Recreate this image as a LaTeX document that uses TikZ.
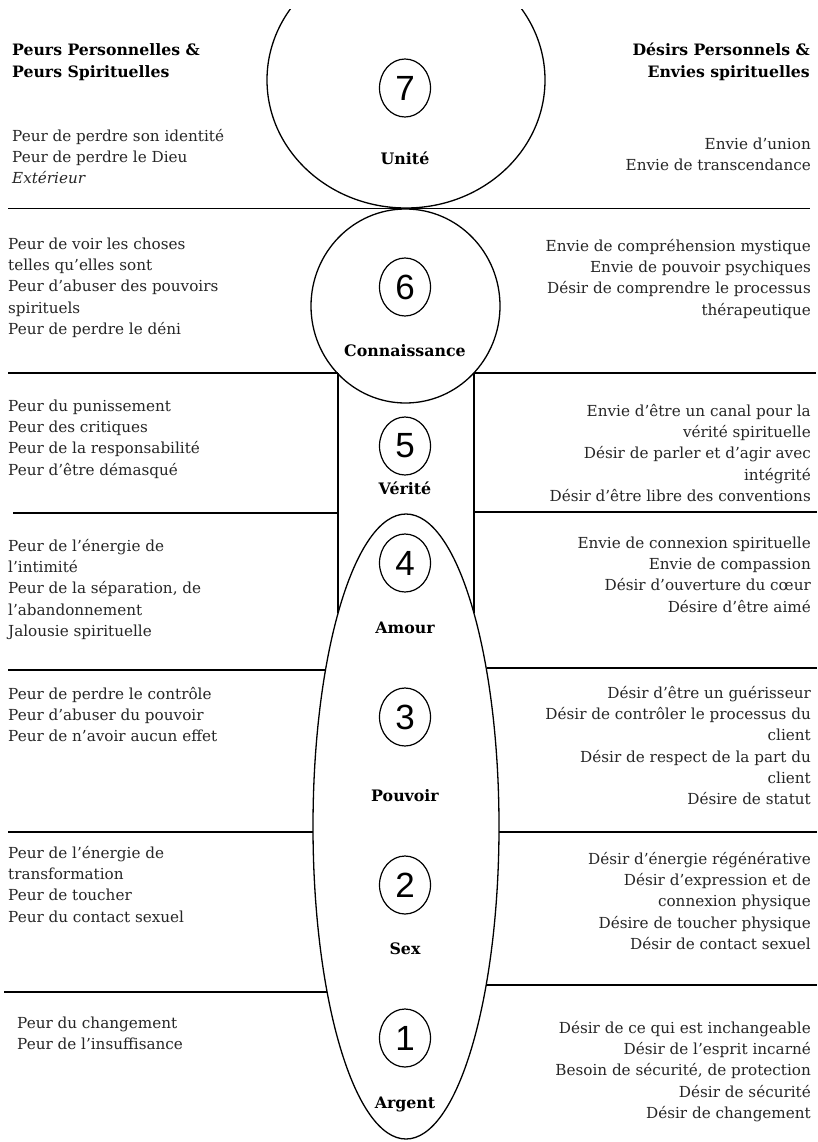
\documentclass[tikz,border=0pt]{standalone}
\usepackage{fontspec}
\setmainfont{DejaVu Serif}
\newfontfamily\numfont{Liberation Sans}
\usetikzlibrary{shapes.geometric}
\newcommand\fs{\rule{0pt}{15pt}}
\tikzset{
  txt/.style={font=\fontsize{15.2}{21.3}\selectfont, text=black!85, inner sep=0pt, align=left, anchor=north west},
  txr/.style={txt, align=right, anchor=north east},
  hdr/.style={font=\bfseries\fontsize{15.7}{22}\selectfont, inner sep=0pt, align=left, anchor=north west},
  hdrr/.style={hdr, align=right, anchor=north east},
  lbl/.style={font=\bfseries\fontsize{15.8}{17}\selectfont, inner sep=0pt, anchor=base},
  num/.style={draw, ellipse, minimum width=51pt, minimum height=58pt, inner sep=0pt, font=\numfont\fontsize{35}{35}\selectfont, line width=1.2pt},
  ln/.style={line width=1.8pt},
  shp/.style={line width=1.3pt}
}
\begin{document}
\begin{tikzpicture}[x=1pt, y=-1pt]
\useasboundingbox[fill=white] (0,0) rectangle (817,1142);
% big shapes
\begin{scope}
  \clip (0,10) rectangle (817,400);
  \draw[shp] (406,80) ellipse [x radius=139, y radius=128];
\end{scope}
\draw[shp] (405.5,306) ellipse [x radius=94.5, y radius=97];
\draw[shp] (406,826.5) ellipse [x radius=93, y radius=312.5];
% horizontal lines
\draw[ln] (8,208.5) -- (810,208.5);
\draw[ln] (8,373) -- (338,373);
\draw[ln] (474,373) -- (816,373);
\draw[shp] (338,373) -- (338,613);
\draw[shp] (474,373) -- (474,613);
\draw[ln] (13,513) -- (338,513);
\draw[ln] (474,512) -- (817,512);
\draw[ln] (8,670) -- (325.5,670);
\draw[ln] (486.5,668) -- (817,668);
\draw[ln] (8,832) -- (313,832);
\draw[ln] (499,832) -- (817,832);
\draw[ln] (4,992) -- (327,992);
\draw[ln] (486,985) -- (817,985);
% numbers
\node[num] (n7) at (405,88) {7};
\node[num] (n6) at (405,287) {6};
\node[num] (n5) at (405,446) {5};
\node[num] (n4) at (405,563) {4};
\node[num] (n3) at (405,717) {3};
\node[num] (n2) at (405,885) {2};
\node[num] (n1) at (405,1038) {1};
% labels
\node[lbl] (u7) at (405,165) {Unité};
\node[lbl] (u6) at (405,356) {Connaissance};
\node[lbl] (u5) at (405,494) {Vérité};
\node[lbl] (u4) at (405,633) {Amour};
\node[lbl] (u3) at (405,801) {Pouvoir};
\node[lbl] (u2) at (405,954) {Sex};
\node[lbl] (u1) at (405,1108) {Argent};
% headers
\node[hdr] (hl) at (12,40) {\fs Peurs Personnelles \&\\Peurs Spirituelles};
\node[hdrr] (hr) at (810,40) {\fs Désirs Personnels \&\\Envies spirituelles};
% left blocks
\node[txt] (l7) at (12,126) {\fs Peur de perdre son identité\\Peur de perdre le Dieu\\\textit{Extérieur}};
\node[txt] (l6) at (8,234) {\fs Peur de voir les choses\\telles qu’elles sont\\Peur d’abuser des pouvoirs\\spirituels\\Peur de perdre le déni};
\node[txt] (l5) at (8,396) {\fs Peur du punissement\\Peur des critiques\\Peur de la responsabilité\\Peur d’être démasqué};
\node[txt] (l4) at (8,536) {\fs Peur de l’énergie de\\l’intimité\\Peur de la séparation, de\\l’abandonnement\\Jalousie spirituelle};
\node[txt] (l3) at (8,684) {\fs Peur de perdre le contrôle\\Peur d’abuser du pouvoir\\Peur de n’avoir aucun effet};
\node[txt] (l2) at (8,843) {\fs Peur de l’énergie de\\transformation\\Peur de toucher\\Peur du contact sexuel};
\node[txt] (l1) at (17,1013) {\fs Peur du changement\\Peur de l'insuffisance};
% right blocks
\node[txr] (r7) at (811,134) {\fs Envie d’union\\Envie de transcendance};
\node[txr] (r6) at (811,236) {\fs Envie de compréhension mystique\\Envie de pouvoir psychiques\\Désir de comprendre le processus\\thérapeutique};
\node[txr] (r5) at (811,401) {\fs Envie d’être un canal pour la\\vérité spirituelle\\Désir de parler et d’agir avec\\intégrité\\Désir d’être libre des conventions};
\node[txr] (r4) at (811,533) {\fs Envie de connexion spirituelle\\Envie de compassion\\Désir d’ouverture du cœur\\Désire d’être aimé};
\node[txr] (r3) at (811,683) {\fs Désir d’être un guérisseur\\Désir de contrôler le processus du\\client\\Désir de respect de la part du\\client\\Désire de statut};
\node[txr] (r2) at (811,849) {\fs Désir d’énergie régénérative\\Désir d'expression et de\\connexion physique\\Désire de toucher physique\\Désir de contact sexuel};
\node[txr] (r1) at (811,1018) {\fs Désir de ce qui est inchangeable\\Désir de l'esprit incarné\\Besoin de sécurité, de protection\\Désir de sécurité\\Désir de changement};
\end{tikzpicture}
\end{document}
